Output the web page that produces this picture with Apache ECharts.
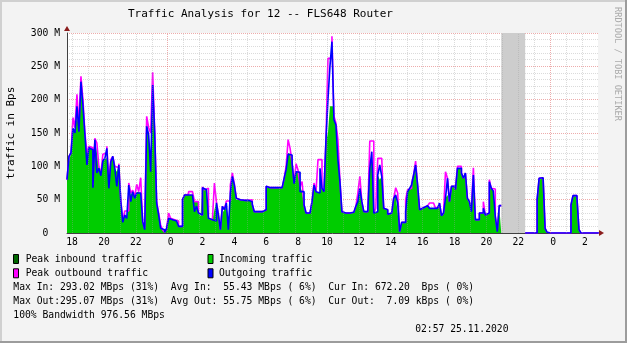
<!DOCTYPE html>
<html><head><meta charset="utf-8">
<script src="https://cdn.jsdelivr.net/npm/echarts@6/dist/echarts.min.js"></script>
<style>html,body{margin:0;padding:0;background:#f3f3f3}#c{width:627px;height:343px}</style>
</head><body><div id="c"></div>
<script>
// time axis in hours since 00:00 of the first day (24 = midnight, 48 = next midnight)
const startHour = 17.68;
const stepHours = 0.125;
const xMin = 17.68, xMax = 51.0;
const xLabelHours = [18,20,22,24,26,28,30,32,34,36,38,40,42,44,46,48,50];
const gridHours = [18,19,20,21,22,23,24,25,26,27,28,29,30,31,32,33,34,35,36,37,38,39,40,41,42,43,44,45,46,47,48,49,50];
const yMax = 300, yStep = 50;

// values in MBps per sample (null = unknown)
const incoming = [
75,107,120,155,150,182,152,215,192,147,
120,128,125,72,140,120,97,88,110,112,
127,80,107,115,97,92,102,47,17,27,
22,72,57,62,52,62,60,62,17,7,
170,147,107,220,152,47,27,7,5,1,
7,22,20,20,18,18,10,10,50,57,
57,60,57,57,47,47,30,25,68,65,
67,22,20,20,35,47,27,5,30,35,
45,10,60,85,72,50,50,50,49,50,
49,46,47,43,32,32,32,32,33,35,
70,68,68,68,68,68,67,68,70,82,
95,120,117,105,76,92,91,70,62,42,
30,30,30,47,72,62,60,97,67,62,
137,150,190,190,170,165,110,80,32,30,
28,30,31,31,31,40,47,67,47,32,
32,30,97,122,30,32,87,80,85,37,
35,28,30,30,52,57,30,2,16,16,
32,62,67,75,87,102,72,35,38,38,
41,41,37,37,40,37,40,45,26,30,
52,57,47,70,70,65,97,97,90,82,
87,52,47,35,87,20,20,30,30,37,
27,30,77,67,63,25,5,40,
null,null,null,null,null,null,null,null,null,null,null,null,
0,0,0,0,0,0,50,80,83,83,7,1,
0,0,0,0,0,0,0,0,0,0,0,
42,56,56,52,5,
0,0,0,0,0,0,0,0,0
];
const outgoing = [
80,115,120,157,150,190,152,227,192,147,
102,128,125,68,140,90,97,86,108,112,
127,67,107,115,97,70,102,47,16,27,
22,72,47,62,52,60,60,62,17,5,
160,147,92,222,152,45,27,7,5,1,
7,22,20,20,18,18,10,10,50,57,
57,60,57,57,32,40,30,27,68,65,
67,22,20,20,18,45,27,5,40,35,
45,5,60,85,72,52,50,50,49,50,
49,46,47,43,32,32,32,32,33,35,
70,68,68,68,68,68,67,68,70,82,
95,118,117,105,74,92,91,62,62,42,
30,30,30,47,72,62,60,97,67,62,
140,200,250,287,170,162,110,77,32,30,
28,30,31,31,31,40,47,67,47,32,
32,30,97,122,30,32,87,102,85,37,
35,28,30,30,52,57,45,2,16,16,
32,62,67,72,87,102,72,35,38,38,
41,41,37,37,40,37,40,45,26,30,
52,82,47,70,70,65,97,97,90,82,
90,52,47,32,87,20,20,30,30,37,
27,30,77,67,63,25,2,41,
null,null,null,null,null,null,null,null,null,null,null,null,
0,0,0,0,0,0,50,82,83,83,7,1,
0,0,0,0,0,0,0,0,0,0,0,
42,56,56,52,5,
0,0,0,0,0,0,0,0,0
];
const peakOutbound = [
80,115,120,173,158,208,160,235,200,150,
120,130,128,72,142,135,100,88,118,120,
130,80,110,115,100,98,104,50,18,33,
33,75,60,64,55,73,62,83,17,7,
175,158,150,241,155,47,30,12,5,1,
7,30,22,20,19,18,10,10,50,57,
58,62,62,64,47,47,30,27,69,65,
67,22,20,20,75,47,28,5,40,35,
48,48,72,90,74,52,50,50,49,50,
49,46,50,43,32,32,32,32,33,35,
70,68,68,68,68,68,67,68,70,82,
100,140,127,105,76,104,94,70,77,42,
30,30,30,47,75,62,110,110,67,62,
140,262,262,295,175,165,140,80,32,30,
28,30,31,31,31,40,60,85,47,32,
32,30,138,138,30,37,112,112,110,37,
35,28,30,30,52,68,60,2,16,16,
50,65,67,75,87,108,72,35,38,38,
41,41,45,45,45,37,40,45,26,30,
92,82,47,70,70,65,100,100,90,82,
90,52,47,35,98,20,20,30,30,47,
27,30,80,67,66,25,5,41,
null,null,null,null,null,null,null,null,null,null,null,null,
0,0,0,0,0,0,50,82,83,83,7,1,
0,0,0,0,0,0,0,0,0,0,0,
42,56,56,52,5,
0,0,0,0,0,0,0,0,0
];

const legendRows = [
  ['Peak inbound traffic', '#006600', 'Incoming traffic', '#00cc00'],
  ['Peak outbound traffic', '#ff00ff', 'Outgoing traffic', '#0000ff']
];
const statLines = [
  'Max In: 293.02 MBps (31%)  Avg In:  55.43 MBps ( 6%)  Cur In: 672.20  Bps ( 0%)',
  'Max Out:295.07 MBps (31%)  Avg Out: 55.75 MBps ( 6%)  Cur Out:  7.09 kBps ( 0%)',
  '100% Bandwidth 976.56 MBps'
];
const stamp = '02:57 25.11.2020';
const titleText = 'Traffic Analysis for 12 -- FLS648 Router';
const yName = 'traffic in Bps';
const watermark = 'RRDTOOL / TOBI OETIKER';

function toSeries(vals) {
  const out = [];
  for (let i = 0; i < vals.length; i++) {
    const t = startHour + i * stepHours;
    out.push([t, vals[i]]);
    const nextNull = (i === vals.length - 1) || vals[i + 1] === null;
    if (vals[i] !== null && nextNull) out.push([t + stepHours, vals[i]]);
  }
  return out;
}
// unknown band from null samples
let nStart = -1, nEnd = -1;
incoming.forEach((v, i) => { if (v === null) { if (nStart < 0) nStart = i; nEnd = i; } });
const bandFrom = startHour + nStart * stepHours, bandTo = startHour + (nEnd + 1) * stepHours;

const MONO = '"DejaVu Sans Mono", monospace';
const G = { left: 67, top: 33, width: 531, height: 200 };
const MAJOR = 'rgba(220,90,90,0.5)';
const MINOR = 'rgba(160,160,160,0.38)';

const graphics = [];
graphics.push({ type: 'rect', z: -10, shape: { x: G.left, y: G.top, width: G.width, height: G.height }, style: { fill: '#ffffff' }, silent: true });
// frame
graphics.push({ type: 'rect', z: 10, shape: { x: 0, y: 0, width: 627, height: 2 }, style: { fill: '#d0d0d0' } });
graphics.push({ type: 'rect', z: 10, shape: { x: 0, y: 0, width: 2, height: 343 }, style: { fill: '#d0d0d0' } });
graphics.push({ type: 'rect', z: 10, shape: { x: 0, y: 341, width: 627, height: 2 }, style: { fill: '#9c9c9c' } });
graphics.push({ type: 'rect', z: 10, shape: { x: 625, y: 0, width: 2, height: 343 }, style: { fill: '#9c9c9c' } });
// arrows
graphics.push({ type: 'polygon', z: 10, shape: { points: [[64, 31], [70, 31], [67, 26]] }, style: { fill: '#8a1c1c' } });
graphics.push({ type: 'polygon', z: 10, shape: { points: [[599, 230], [599, 236], [604, 233]] }, style: { fill: '#8a1c1c' } });
// title
graphics.push({ type: 'text', z: 10, style: { text: titleText, x: 128, y: 14, font: '11px ' + MONO, fill: '#000', textAlign: 'left', textVerticalAlign: 'middle', align: 'left', verticalAlign: 'middle' } });
// y name
graphics.push({ type: 'text', z: 10, x: 11, y: 133, rotation: Math.PI / 2, style: { text: yName, x: 0, y: 0, font: '11px ' + MONO, fill: '#000', textAlign: 'center', textVerticalAlign: 'middle', align: 'center', verticalAlign: 'middle' } });
// watermark
graphics.push({ type: 'text', z: 10, x: 617, y: 64, rotation: -Math.PI / 2, style: { text: watermark, x: 0, y: 0, font: '8.6px ' + MONO, fill: '#ababab', textAlign: 'center', textVerticalAlign: 'middle', align: 'center', verticalAlign: 'middle' } });
// legend
const rowY = [259, 273.3];
legendRows.forEach((r, k) => {
  [[r[0], r[1], 13, 25.7], [r[2], r[3], 207.5, 219]].forEach(([txt, col, bx, tx]) => {
    graphics.push({ type: 'rect', z: 10, shape: { x: bx + 0.5, y: rowY[k] - 4.5, width: 5, height: 9 }, style: { fill: col, stroke: '#000', lineWidth: 1 } });
    graphics.push({ type: 'text', z: 10, style: { text: txt, x: tx, y: rowY[k], font: '9.7px ' + MONO, fill: '#000', textAlign: 'left', textVerticalAlign: 'middle', align: 'left', verticalAlign: 'middle' } });
  });
});
const statY = [287, 301.3, 315.3];
statLines.forEach((s, k) => {
  graphics.push({ type: 'text', z: 10, style: { text: s, x: 13.3, y: statY[k], font: '9.7px ' + MONO, fill: '#000', textAlign: 'left', textVerticalAlign: 'middle', align: 'left', verticalAlign: 'middle' } });
});
graphics.push({ type: 'text', z: 10, style: { text: stamp, x: 508.5, y: 329.3, font: '9.7px ' + MONO, fill: '#000', textAlign: 'right', textVerticalAlign: 'middle', align: 'right', verticalAlign: 'middle' } });

const chart = echarts.init(document.getElementById('c'), null, { renderer: 'canvas' });
chart.setOption({
  backgroundColor: '#f3f3f3',
  animation: false,
  textStyle: { fontFamily: MONO },
  grid: { left: G.left, top: G.top, width: G.width, height: G.height, containLabel: false },
  graphic: graphics,
  xAxis: {
    type: 'value', min: xMin, max: xMax,
    axisLine: { show: true, lineStyle: { color: '#404040', width: 1 } },
    axisTick: { show: false },
    splitLine: { show: false },
    axisLabel: {
      customValues: xLabelHours, margin: 4, fontSize: 9.7, fontFamily: MONO, color: '#000',
      formatter: v => String(Math.round(v) % 24).padStart(2, ' ')
    }
  },
  yAxis: {
    type: 'value', min: 0, max: yMax, interval: yStep,
    axisLine: { show: true, lineStyle: { color: '#404040', width: 1 } },
    axisTick: { show: false },
    axisLabel: { margin: 7, fontSize: 9.7, fontFamily: MONO, color: '#000',
      formatter: v => v === 0 ? '0  ' : v + ' M' },
    splitLine: { show: true, lineStyle: { color: MAJOR, type: [1, 1], width: 1 } },
    minorTick: { show: false, splitNumber: 5 },
    minorSplitLine: { show: true, lineStyle: { color: MINOR, type: [1, 1], width: 1 } }
  },
  series: [
    { type: 'line', z: 0, data: [], silent: true,
      markArea: { silent: true, itemStyle: { color: '#cdcdcd' }, data: [[{ xAxis: bandFrom }, { xAxis: bandTo }]] } },
    { type: 'line', z: 1, data: [], silent: true,
      markLine: { silent: true, symbol: ['none', 'none'], label: { show: false }, animation: false,
        data: gridHours.map(h => ({ xAxis: h, lineStyle: { color: h % 24 === 0 ? MAJOR : MINOR, type: [1, 1], width: 1 } })) } },
    { name: 'Incoming traffic', type: 'line', z: 2, step: 'end', showSymbol: false, symbol: 'none',
      data: toSeries(incoming), lineStyle: { width: 0 }, areaStyle: { color: '#00cc00', opacity: 1 }, itemStyle: { color: '#00cc00' } },
    { name: 'Peak outbound traffic', type: 'line', z: 3, step: 'end', showSymbol: false, symbol: 'none',
      data: toSeries(peakOutbound), lineStyle: { width: 1.6, color: '#ff00ff' }, itemStyle: { color: '#ff00ff' } },
    { name: 'Outgoing traffic', type: 'line', z: 4, step: 'end', showSymbol: false, symbol: 'none',
      data: toSeries(outgoing), lineStyle: { width: 1.6, color: '#0000ff' }, itemStyle: { color: '#0000ff' } }
  ]
});
</script></body></html>
